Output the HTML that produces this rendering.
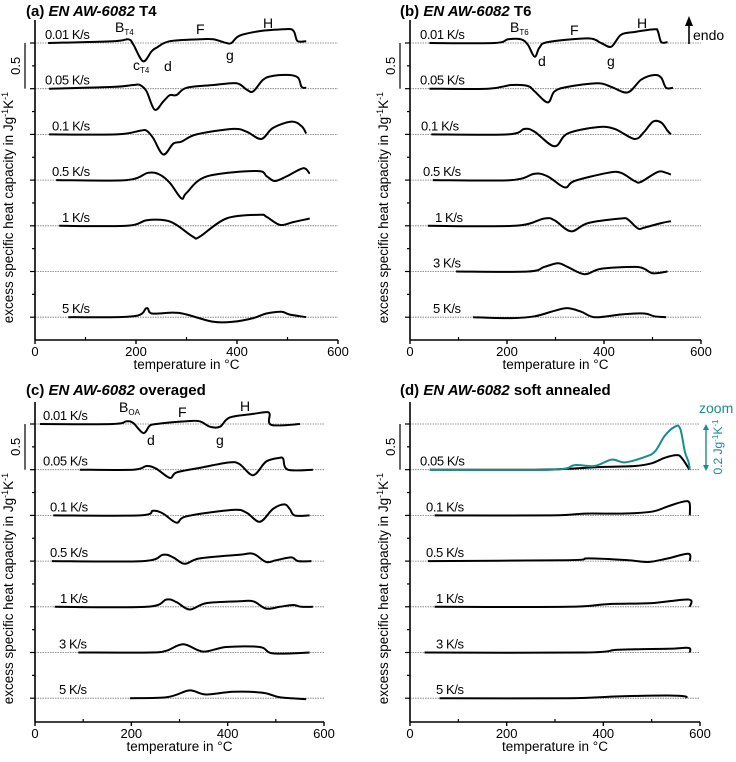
<!DOCTYPE html>
<html><head><meta charset="utf-8"><style>
html,body{margin:0;padding:0;background:#fff;}
svg{display:block;font-family:"Liberation Sans",sans-serif;}
</style></head><body>
<svg id="fig" width="736" height="762" viewBox="0 0 736 762" xmlns="http://www.w3.org/2000/svg"></svg>
<script>
// ---- data (temperature in °C, excess specific heat capacity in J/(g K), relative to own baseline) ----
const labelsA = ['0.01 K/s','0.05 K/s','0.1 K/s','0.5 K/s','1 K/s','5 K/s'];
const rowsA = [0,1,2,3,4,6];
const tempsA = [
 [26,155,185,195,214,231,241,267,326,353,379,389,405,445,491,508,514,520,537],
 [28,155,195,208,221,237,254,267,280,300,353,399,419,432,452,471,504,521,528,537],
 [28,162,208,221,234,254,274,290,320,392,419,448,471,508,528,537],
 [42,181,224,247,267,290,300,340,439,459,475,498,531,544],
 [48,181,221,257,280,313,326,379,445,458,485,511,544],
 [66,195,221,231,274,300,353,392,432,458,488,504,537]];
const valuesA = [
 [0,.02,.04,-.02,-.2,-.09,-.05,.02,.04,.04,0,0,.08,.13,.15,.15,.11,.02,.02],
 [0,.02,.04,.04,-.03,-.23,-.14,-.07,-.07,.01,.04,.06,-.01,-.03,.1,.14,.15,.12,.02,.01],
 [0,0,.04,.04,-.04,-.22,-.1,-.08,0,.06,.03,-.05,.07,.14,.09,.01],
 [0,0,.08,.06,-.03,-.2,-.14,.04,.1,.04,-.01,.04,.13,.07],
 [0,0,.06,.06,.01,-.12,-.12,.08,.12,.1,.01,.04,.08],
 [0,.01,.1,.04,.05,.03,-.05,-.05,-.01,.04,.06,.03,0]];

const labelsB = ['0.01 K/s','0.05 K/s','0.1 K/s','0.5 K/s','1 K/s','3 K/s','5 K/s'];
const rowsB = [0,1,2,3,4,5,6];
const tempsB = [
 [40,174,202,229,243,257,267,284,367,394,415,435,463,504,511,518,531],
 [40,161,209,243,257,284,298,325,387,415,449,477,504,518,528,542],
 [44,202,236,257,298,325,387,422,463,483,501,518,531,538],
 [47,209,257,284,319,339,408,435,463,476,511,528,538],
 [37,216,277,298,332,367,435,449,470,483,518,538],
 [95,243,277,305,325,360,394,463,483,501,531],
 [130,209,257,298,325,353,381,435,483,504,528]];
const valuesB = [
 [0,0,.04,.04,-.02,-.15,-.05,.01,.05,0,-.04,.09,.12,.15,.13,.01,.01],
 [0,0,.04,.03,-.03,-.15,-.03,.02,.06,.02,-.04,.1,.15,.12,.01,.01],
 [0,0,.06,.03,-.13,.01,.08,.06,-.05,.03,.14,.13,.04,0],
 [0,0,.07,.04,-.08,-.01,.08,.08,-.01,-.02,.09,.08,.06],
 [0,0,.08,.06,-.06,.03,.08,.07,-.03,-.02,.03,.05],
 [0,0,.05,.09,.05,-.03,.03,.05,.03,-.02,0],
 [0,-.01,.01,.07,.1,.06,0,.03,.04,.01,0]];

const labelsC = ['0.01 K/s','0.05 K/s','0.1 K/s','0.5 K/s','1 K/s','3 K/s','5 K/s'];
const rowsC = [0,1,2,3,4,5,6];
const tempsC = [
 [10,162,190,204,225,238,252,315,342,363,384,404,453,480,487,491,550],
 [93,204,232,252,280,294,342,404,425,453,480,508,515,525,577],
 [38,218,245,266,294,315,411,439,467,494,518,529,539,570],
 [35,225,266,287,311,342,425,453,480,501,532,546,574],
 [41,232,273,294,321,356,425,453,480,508,536,553,577],
 [90,239,273,308,349,397,467,494,570],
 [197,273,315,329,356,411,473,508,563]];
const valuesC = [
 [0,0,.03,.01,-.1,-.02,0,.03,.03,-.03,-.03,.07,.11,.13,.11,-.01,0],
 [0,0,.04,.01,-.09,-.03,.02,.08,.06,-.06,.09,.13,.12,0,0],
 [0,0,.05,.02,-.08,-.01,.06,.03,-.07,.07,.12,.07,0,0],
 [0,0,.07,.04,-.03,.03,.07,.08,-.01,.01,.04,0,0],
 [0,0,.08,.05,-.03,.04,.06,.06,-.02,0,.02,0,0],
 [0,0,.02,.09,.01,.06,.06,-.01,0],
 [0,.01,.08,.08,.04,.07,.06,.01,-.01]];

const labelsD = ['0.05 K/s','0.1 K/s','0.5 K/s','1 K/s','3 K/s','5 K/s'];
const rowsD = [1,2,3,4,5,6];
const tempsD = [
 [41,258,327,396,465,500,527,552,562,576,578],
 [51,293,362,438,500,534,565,578,579],
 [37,327,369,451,493,534,576,579],
 [51,327,410,500,576,579],
 [30,362,431,534,576,579],
 [61,327,431,534,569,572]];
const valuesD = [
 [0,0,.01,.03,.04,.07,.13,.16,.13,.02,0],
 [0,0,.02,.02,.04,.1,.15,.14,0],
 [0,.01,.03,.01,-.01,.03,.08,0],
 [0,0,.03,.04,.08,0],
 [0,0,.03,.04,.05,0],
 [0,0,.02,.03,.02,0]];
const zoomTemps = [41,293,341,382,417,445,486,507,527,548,559,569,576,579];
const zoomValues = [0,0,.05,.04,.11,.08,.14,.2,.37,.47,.45,.19,.09,0];

const xTicks = [0,200,400,600];

// ---- layout ----
const NS='http://www.w3.org/2000/svg';
const svg=document.getElementById('fig');
const PXJ=91.4, STEP=45.7;
function el(tag,attrs,parent){const e=document.createElementNS(NS,tag);for(const k in attrs)e.setAttribute(k,attrs[k]);(parent||svg).appendChild(e);return e;}
function smooth(pts){let d='M'+pts[0][0].toFixed(1)+','+pts[0][1].toFixed(1);
 for(let i=0;i<pts.length-1;i++){const p0=pts[Math.max(0,i-1)],p1=pts[i],p2=pts[i+1],p3=pts[Math.min(pts.length-1,i+2)];
  const c1x=p1[0]+(p2[0]-p0[0])/6,c1y=p1[1]+(p2[1]-p0[1])/6,c2x=p2[0]-(p3[0]-p1[0])/6,c2y=p2[1]-(p3[1]-p1[1])/6;
  d+=' C'+c1x.toFixed(1)+','+c1y.toFixed(1)+' '+c2x.toFixed(1)+','+c2y.toFixed(1)+' '+p2[0].toFixed(1)+','+p2[1].toFixed(1);}
 return d;}

function panel(cfg){
 const g=el('g',{});
 
 
 const xs=t=>cfg.x0+(t/600)*(cfg.x1-cfg.x0);
 const base=r=>cfg.b0+r*STEP;
 // title
 const tt=el('text',{x:cfg.tx,y:cfg.ty,'font-size':15,'font-weight':'bold'},g);
 
 
 tt.innerHTML=cfg.tp+' <tspan font-style="italic">EN AW-6082</tspan> '+cfg.ts;
 // baselines
 for(let r=0;r<7;r++){const l=el('line',{x1:cfg.x0,x2:cfg.lineEnd,y1:base(r),y2:base(r),stroke:'#777','stroke-width':0.8,'stroke-dasharray':'1.5,1'},g);
  
  }
 // axes
 const ya=el('line',{x1:cfg.x0,x2:cfg.x0,y1:cfg.top,y2:cfg.bot,stroke:'#000','stroke-width':1.6},g);
 
 
 const xa=el('line',{x1:cfg.x0,x2:cfg.x1,y1:cfg.bot,y2:cfg.bot,stroke:'#000','stroke-width':1.6},g);
 
 
 for(let k=0;k<14;k++){const y=cfg.b0+k*STEP/2-STEP/2*0;if(y>cfg.bot-5)break;
  el('line',{x1:cfg.x0-(k%2?3:5),x2:cfg.x0,y1:y,y2:y,stroke:'#000','stroke-width':1.2},g);}
 for(const t of [100,300,500]) el('line',{x1:xs(t),x2:xs(t),y1:cfg.bot,y2:cfg.bot-3,stroke:'#000','stroke-width':1.2},g);
 xTicks.forEach(t=>{el('line',{x1:xs(t),x2:xs(t),y1:cfg.bot,y2:cfg.bot+4,stroke:'#000','stroke-width':1.4},g);
  const tl=el('text',{x:xs(t),y:cfg.bot+16,'font-size':13,'text-anchor':'middle'},g);
  
  
  tl.textContent=t;});
 const xl=el('text',{x:(cfg.x0+cfg.x1)/2,y:cfg.bot+29,'font-size':13.5,'text-anchor':'middle'},g);
 
 
 xl.textContent='temperature in °C';
 const cy=cfg.b0+4.5*STEP-STEP*0.2;
 const yl=el('text',{x:0,y:0,'font-size':13.5,'text-anchor':'middle',transform:'translate('+(cfg.x0-22)+','+(cfg.b0+3.6*STEP)+') rotate(-90)'},g);
 
 
 yl.innerHTML='excess specific heat capacity in Jg<tspan dy="-5" font-size="9">-1</tspan><tspan dy="5">K</tspan><tspan dy="-5" font-size="9">-1</tspan>';
 // scale bar
 const sb=el('line',{x1:cfg.x0-10,x2:cfg.x0-10,y1:base(0),y2:base(1),stroke:'#000','stroke-width':1.2},g);
 
 
 const st=el('text',{x:0,y:0,'font-size':13,'text-anchor':'middle',transform:'translate('+(cfg.x0-15)+','+(base(0)+STEP/2)+') rotate(-90)'},g);
 
 
 st.textContent='0.5';
 // curves
 cfg.temps.forEach((ts,i)=>{const r=cfg.rows[i];
  const pts=ts.map((t,j)=>[xs(t),base(r)-cfg.vals[i][j]*PXJ]);
  const p=el('path',{d:smooth(pts),fill:'none',stroke:'#000','stroke-width':2,'stroke-linejoin':'round'},g);
  
  
  const lb=el('text',{x:cfg.lx[i],y:base(r)-4,'font-size':13,'letter-spacing':'-0.4'},g);
  
  
  lb.textContent=cfg.labels[i];});
 return {g,xs,base};
}

panel({name:'panel-a',x0:35,x1:338,lineEnd:338,top:20,bot:340,b0:43,tx:26,ty:16,tp:'(a)',ts:'T4',labels:labelsA,rows:rowsA,temps:tempsA,vals:valuesA,lx:[45,45,52,52,62,62]});
panel({name:'panel-b',x0:410,x1:701,lineEnd:701,top:20,bot:340,b0:43,tx:400,ty:16,tp:'(b)',ts:'T6',labels:labelsB,rows:rowsB,temps:tempsB,vals:valuesB,lx:[420,420,421,423,435,433,433]});
panel({name:'panel-c',x0:35,x1:324,lineEnd:324,top:402,bot:722,b0:424,tx:26,ty:395,tp:'(c)',ts:'overaged',labels:labelsC,rows:rowsC,temps:tempsC,vals:valuesC,lx:[43,43,50,50,60,59,59]});
const pd=panel({name:'panel-d',x0:410,x1:700,lineEnd:700,top:402,bot:722,b0:424,tx:400,ty:395,tp:'(d)',ts:'soft annealed',labels:labelsD,rows:rowsD,temps:tempsD,vals:valuesD,lx:[420,426,426,436,436,436]});
// zoom curve (teal)
const zp=el('path',{d:smooth(zoomTemps.map((t,j)=>[pd.xs(t),pd.base(1)-zoomValues[j]*PXJ])),fill:'none',stroke:'#1a8c8c','stroke-width':2});



// annotations
function ann(x,y,txt,sub,name,col){const t=el('text',{x:x,y:y,'font-size':14,fill:col||'#000'});
 
 
 t.innerHTML=txt+(sub?'<tspan dy="3" font-size="8">'+sub+'</tspan>':'');}
ann(115,32,'B','T4','peak-b');ann(133,70,'c','T4','peak-c');ann(164,71,'d','','peak-d');ann(196,34,'F','','peak-f');ann(226,60,'g','','peak-g');ann(263,28,'H','','peak-h');
ann(510,32,'B','T6','peak-b');ann(538,66,'d','','peak-d');ann(570,35,'F','','peak-f');ann(607,66,'g','','peak-g');ann(637,28,'H','','peak-h');
ann(119,412,'B','OA','peak-b');ann(147,445,'d','','peak-d');ann(178,417,'F','','peak-f');ann(216,445,'g','','peak-g');ann(240,411,'H','','peak-h');
// endo arrow
const ea=el('line',{x1:689,x2:689,y1:44,y2:24,stroke:'#000','stroke-width':1.6});


el('polygon',{points:'685,26 693,26 689,16',fill:'#000'});
ann(693,40,'endo','','endo-label');
// zoom markers
ann(699,413,'zoom','','zoom-label','#1a8c8c');
const za=el('line',{x1:706,x2:706,y1:429,y2:466,stroke:'#1a8c8c','stroke-width':1.4});


el('polygon',{points:'703,430 709,430 706,424',fill:'#1a8c8c'});
el('polygon',{points:'703,465 709,465 706,471',fill:'#1a8c8c'});
const zt=el('text',{x:0,y:0,'font-size':12,fill:'#1a8c8c','text-anchor':'middle',transform:'translate(722,447) rotate(-90)'});


zt.innerHTML='0.2 Jg<tspan dy="-4" font-size="8">-1</tspan><tspan dy="4">K</tspan><tspan dy="-4" font-size="8">-1</tspan>';
</script>
</body></html>
